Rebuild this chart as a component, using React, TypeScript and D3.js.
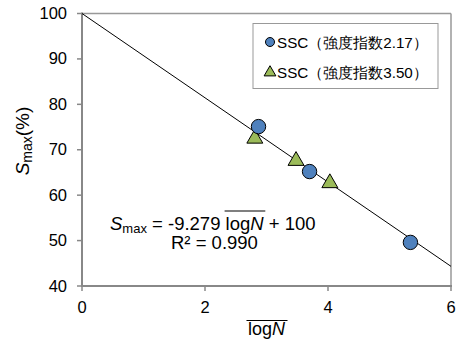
import React, { useLayoutEffect, useRef, useState } from "react";
import * as d3 from "d3";

const xTicks = [0, 2, 4, 6];
const yTicks = [40, 50, 60, 70, 80, 90, 100];
const series1Name = "SSC（強度指数2.17）";
const series2Name = "SSC（強度指数3.50）";
const series1X = [2.87, 3.7, 5.34];
const series1Y = [75.1, 65.2, 49.6];
const series2X = [2.81, 3.48, 4.03];
const series2Y = [72.8, 67.9, 63.0];
const slope = -9.279;
const intercept = 100;

const W = 458;
const H = 345;
const FONT = "'Liberation Sans', Arial, sans-serif";

export default function App() {
  const x = d3.scaleLinear().domain([0, 6]).range([82, 451]);
  const y = d3.scaleLinear().domain([40, 100]).range([286, 13.5]);
  const eqRef = useRef<SVGTSpanElement>(null);
  const axRef = useRef<SVGTextElement>(null);
  const [eqLine, setEqLine] = useState<[number, number] | null>(null);
  const [axLine, setAxLine] = useState<[number, number] | null>(null);

  useLayoutEffect(() => {
    if (eqRef.current) {
      const b = eqRef.current.getBBox();
      setEqLine([b.x, b.x + b.width]);
    }
    if (axRef.current) {
      const b = axRef.current.getBBox();
      setAxLine([b.x, b.x + b.width]);
    }
  }, []);

  const line = d3
    .line<number>()
    .x((d) => x(d))
    .y((d) => y(slope * d + intercept));

  const tri = d3.symbol().type(d3.symbolTriangle).size(110)();
  const triSmall = d3.symbol().type(d3.symbolTriangle).size(60)();

  return (
    <svg
      width={W}
      height={H}
      style={{ position: "absolute", left: 0, top: 0, background: "#fff" }}
      fontFamily={FONT}
    >
      {/* frame */}
      <line x1={x(0)} x2={x(6)} y1={y(100)} y2={y(100)} stroke="#999" strokeWidth={1.5} />
      <line x1={x(6)} x2={x(6)} y1={y(100)} y2={y(40)} stroke="#999" strokeWidth={1.5} />
      {/* axes */}
      <line x1={x(0)} x2={x(0)} y1={y(100) - 1} y2={y(40) + 1} stroke="#888" strokeWidth={2} />
      <line x1={x(0) - 1} x2={x(6) + 1} y1={y(40)} y2={y(40)} stroke="#888" strokeWidth={2} />
      {yTicks.map((t) => (
        <g key={"y" + t}>
          <line x1={x(0) - 5} x2={x(0)} y1={y(t)} y2={y(t)} stroke="#888" strokeWidth={1.5} />
          <text x={67} y={y(t) + 5.5} fontSize={16.5} textAnchor="end" fill="#000">
            {t}
          </text>
        </g>
      ))}
      {xTicks.map((t) => (
        <g key={"x" + t}>
          <line x1={x(t)} x2={x(t)} y1={y(40)} y2={y(40) + 5} stroke="#888" strokeWidth={1.5} />
          <text x={x(t)} y={312.5} fontSize={16.5} textAnchor="middle" fill="#000">
            {t}
          </text>
        </g>
      ))}
      {/* regression line */}
      <path d={line([0, 6]) || ""} stroke="#000" strokeWidth={1} fill="none" />
      {/* series 2 triangles */}
      {series2X.map((v, i) => (
        <path
          key={"t" + i}
          d={tri || ""}
          transform={`translate(${x(v)},${y(series2Y[i]) + 1.5})`}
          fill="#9bbb59"
          stroke="#000"
          strokeWidth={1}
        />
      ))}
      {/* series 1 circles */}
      {series1X.map((v, i) => (
        <circle
          key={"c" + i}
          cx={x(v)}
          cy={y(series1Y[i])}
          r={7.2}
          fill="#4f81bd"
          stroke="#000"
          strokeWidth={1}
        />
      ))}
      {/* legend */}
      <rect x={253} y={23.5} width={185} height={65} fill="#fff" stroke="#999" strokeWidth={1} />
      <circle cx={270} cy={42} r={4.5} fill="#4f81bd" stroke="#000" strokeWidth={1} />
      <path d={triSmall || ""} transform="translate(270,72.5)" fill="#9bbb59" stroke="#000" strokeWidth={1} />
      <text x={277} y={47.5} fontSize={15.2} fill="#000">
        {series1Name}
      </text>
      <text x={277} y={77.5} fontSize={15.2} fill="#000">
        {series2Name}
      </text>
      {/* equation */}
      <text x={110} y={230} fontSize={18.5} fill="#000">
        <tspan fontStyle="italic">S</tspan>
        <tspan fontSize={13} dy={3}>max</tspan>
        <tspan dy={-3}>{" = -9.279 "}</tspan>
        <tspan ref={eqRef}>
          log<tspan fontStyle="italic">N</tspan>
        </tspan>
        <tspan>{" + 100"}</tspan>
      </text>
      {eqLine && (
        <line x1={eqLine[0] - 1} x2={eqLine[1] + 1} y1={211} y2={211} stroke="#000" strokeWidth={1.2} />
      )}
      <text x={171} y={249} fontSize={18.5} fill="#000">
        R² = 0.990
      </text>
      {/* x axis title */}
      <text ref={axRef} x={266.5} y={335} fontSize={18} textAnchor="middle" fill="#000">
        log<tspan fontStyle="italic">N</tspan>
      </text>
      {axLine && (
        <line x1={axLine[0] - 1.5} x2={axLine[1] + 1.5} y1={320.5} y2={320.5} stroke="#000" strokeWidth={1.2} />
      )}
      {/* y axis title */}
      <text transform="translate(29,141) rotate(-90)" fontSize={19} textAnchor="middle" fill="#000">
        <tspan fontStyle="italic">S</tspan>
        <tspan fontSize={14} dy={3}>max</tspan>
        <tspan dy={-3}>(%)</tspan>
      </text>
    </svg>
  );
}
